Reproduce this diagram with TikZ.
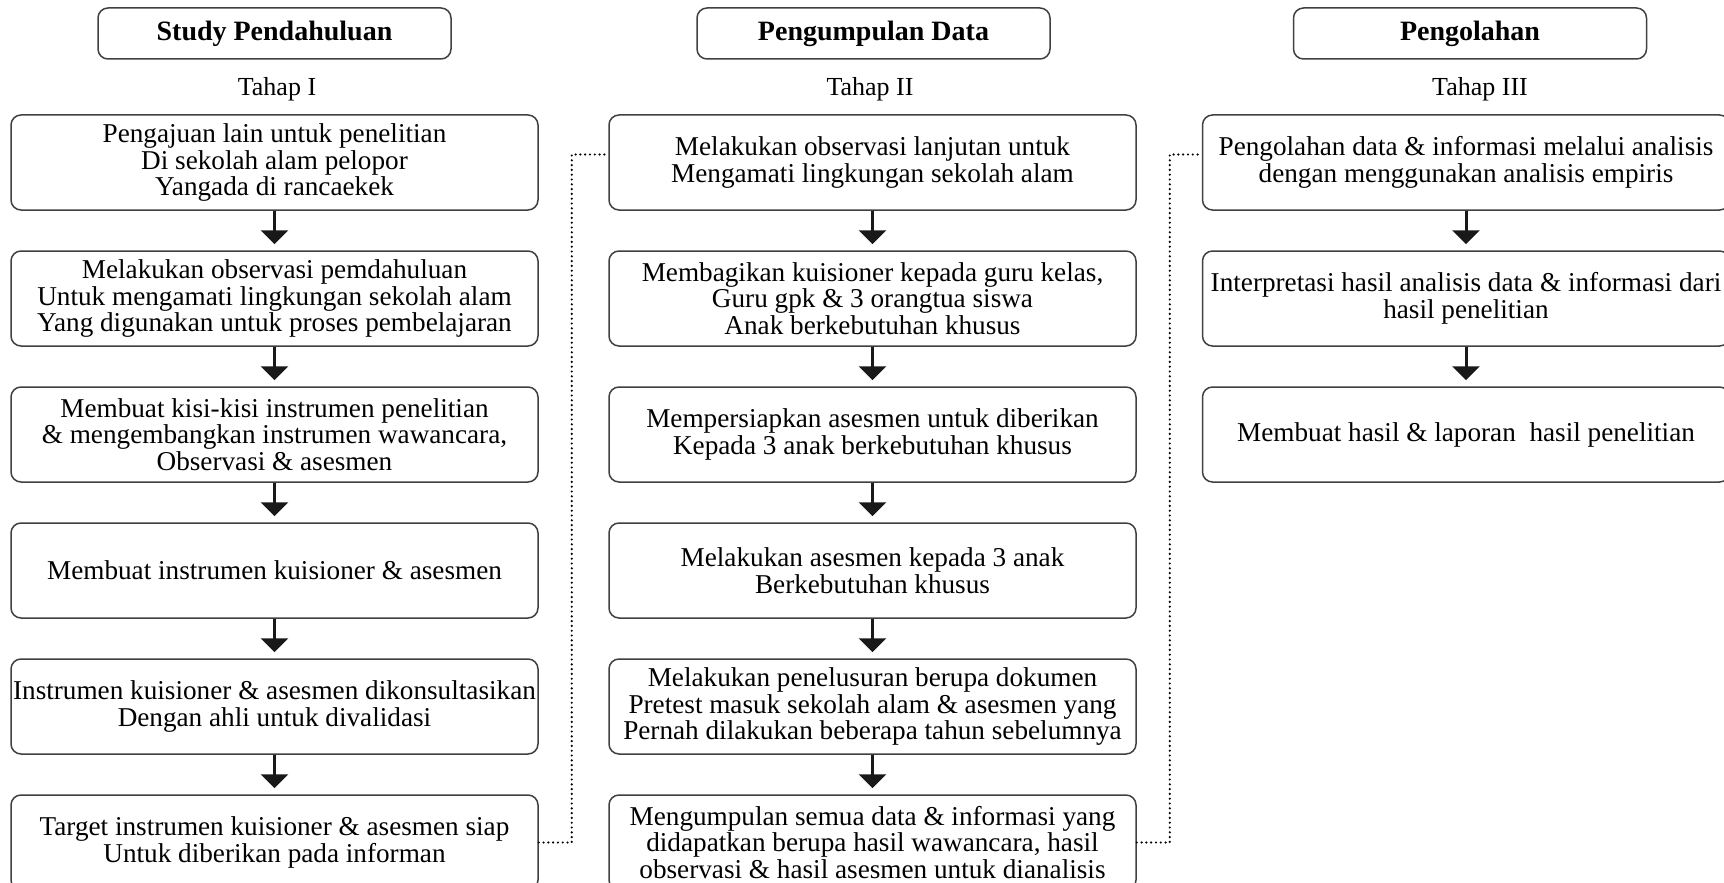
\documentclass[tikz,border=0pt]{standalone}
\usepackage{fontspec}
\setmainfont{Liberation Serif}
\usetikzlibrary{arrows.meta, positioning}

\begin{document}
\begin{tikzpicture}[
    x=0.5pt, y=-0.5pt,
    node distance=19.75pt,
    every node/.style={font=\fontsize{13.6}{13.4}\selectfont},
    header/.style={rectangle, draw=black!75, line width=0.75pt, rounded corners=5pt, minimum width=176.5pt, minimum height=25.5pt, font=\bfseries\fontsize{14}{16}\selectfont},
    tahap/.style={font=\fontsize{13}{15}\selectfont},
    process/.style={rectangle, draw=black!75, line width=0.75pt, rounded corners=5pt, minimum width=263.5pt, minimum height=47.5pt, align=center, inner sep=1pt},
    arrow/.style={-{Triangle[width=13.5pt,length=7pt]}, line width=1.5pt, black!90, shorten >=3pt},
    link/.style={line width=1.2pt, black, line cap=round, dash pattern=on 0pt off 2.4pt}
]
\useasboundingbox (0,0) rectangle (1724,883);

% judul tiap tahap
\node[header] (h1) at (274.5,33.5) {Study Pendahuluan};
\node[header] (h2) at (873.5,33.5) {Pengumpulan Data};
\node[header] (h3) at (1470,33.5) {Pengolahan};
\node[tahap] (t1) at (277,89) {Tahap I};
\node[tahap] (t2) at (870,89) {Tahap II};
\node[tahap] (t3) at (1480,89) {Tahap III};

% tahap I
\node[process] (a1) at (274.5,162.5) {Pengajuan lain untuk penelitian\\Di sekolah alam pelopor\\Yangada di rancaekek};
\node[process, below=of a1] (a2) {Melakukan observasi pemdahuluan\\Untuk mengamati lingkungan sekolah alam\\Yang digunakan untuk proses pembelajaran};
\node[process, below=of a2] (a3) {Membuat kisi-kisi instrumen penelitian\\\& mengembangkan instrumen wawancara,\\Observasi \& asesmen};
\node[process, below=of a3] (a4) {Membuat instrumen kuisioner \& asesmen};
\node[process, below=of a4] (a5) {Instrumen kuisioner \& asesmen dikonsultasikan\\Dengan ahli untuk divalidasi};
\node[process, below=of a5] (a6) {Target instrumen kuisioner \& asesmen siap\\Untuk diberikan pada informan};

% tahap II
\node[process] (b1) at (872.5,162.5) {Melakukan observasi lanjutan untuk\\Mengamati lingkungan sekolah alam};
\node[process, below=of b1] (b2) {Membagikan kuisioner kepada guru kelas,\\Guru gpk \& 3 orangtua siswa\\Anak berkebutuhan khusus};
\node[process, below=of b2] (b3) {Mempersiapkan asesmen untuk diberikan\\Kepada 3 anak berkebutuhan khusus};
\node[process, below=of b3] (b4) {Melakukan asesmen kepada 3 anak\\Berkebutuhan khusus};
\node[process, below=of b4] (b5) {Melakukan penelusuran berupa dokumen\\Pretest masuk sekolah alam \& asesmen yang\\Pernah dilakukan beberapa tahun sebelumnya};
\node[process, below=of b5] (b6) {Mengumpulan semua data \& informasi yang\\didapatkan berupa hasil wawancara, hasil\\observasi \& hasil asesmen untuk dianalisis};

% tahap III
\node[process] (c1) at (1466,162.5) {Pengolahan data \& informasi melalui analisis\\dengan menggunakan analisis empiris};
\node[process, below=of c1] (c2) {Interpretasi hasil analisis data \& informasi dari\\hasil penelitian};
\node[process, below=of c2] (c3) {Membuat hasil \& laporan\ \ hasil penelitian};

\draw[arrow] (a1) -- (a2);
\draw[arrow] (a2) -- (a3);
\draw[arrow] (a3) -- (a4);
\draw[arrow] (a4) -- (a5);
\draw[arrow] (a5) -- (a6);
\draw[arrow] (b1) -- (b2);
\draw[arrow] (b2) -- (b3);
\draw[arrow] (b3) -- (b4);
\draw[arrow] (b4) -- (b5);
\draw[arrow] (b5) -- (b6);
\draw[arrow] (c1) -- (c2);
\draw[arrow] (c2) -- (c3);

% sambungan antar tahap
\draw[link] (a6.east) -- ++(16.5pt,0) |- ([yshift=4pt]b1.west);
\draw[link] (b6.east) -- ++(16.5pt,0) |- ([yshift=4pt]c1.west);
\end{tikzpicture}
\end{document}
